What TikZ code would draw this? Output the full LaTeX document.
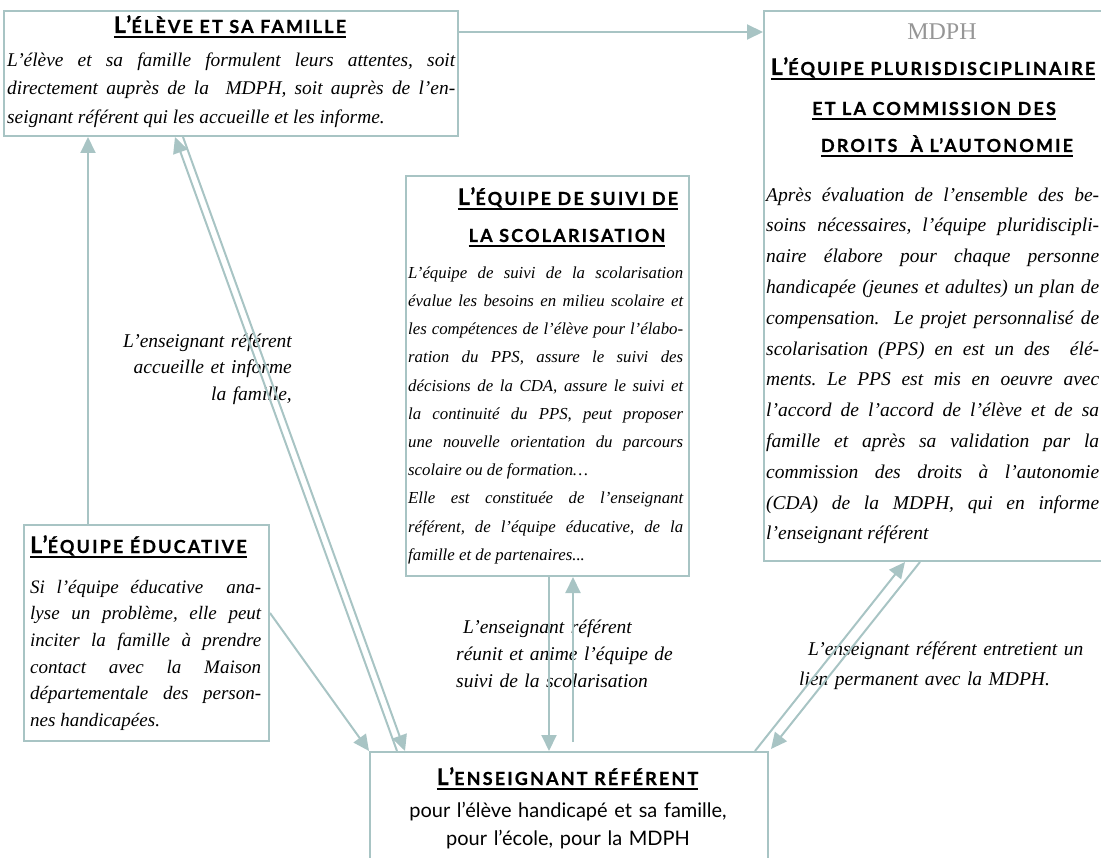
\documentclass[tikz,border=0pt]{standalone}
\usepackage{fontspec}
\setmainfont{Liberation Serif}
\newfontfamily\ttlfont{Lato}[LetterSpace=12, BoldFeatures={FakeBold=0.8}]
\newfontfamily\refsans{Lato}
\usetikzlibrary{arrows.meta,calc}
\definecolor{lc}{RGB}{168,196,196}
\definecolor{mgray}{RGB}{150,150,150}
\frenchspacing
\newcommand{\myul}[1]{\setbox0\hbox{#1}\leavevmode\rlap{\rule[-5pt]{\wd0}{1.6pt}}\box0}
\newcommand{\ttl}[2]{\myul{\ttlfont\bfseries{\fontsize{23}{26}\selectfont #1}{\fontsize{18}{24}\selectfont #2}}}
\newcommand{\ttlsc}[1]{\myul{\ttlfont\bfseries\fontsize{18}{24}\selectfont #1}}
\newcommand{\bodyset}{\hyphenpenalty=10000\relax\tolerance=9999\relax}
\begin{document}
\begin{tikzpicture}[x=1pt,y=-1pt,
  box/.style={draw=lc, line width=2pt, inner sep=0pt, anchor=north west},
  body/.style={anchor=north west, inner sep=0pt, align=justify},
  lab/.style={inner sep=0pt},
  conn/.style={draw=lc, line width=2pt},
  tip/.style={-{Triangle[length=16pt,width=15pt]}}]
\useasboundingbox (0,0) rectangle (1101,858);
% boxes
\node[box, minimum width=454pt, minimum height=125pt] (eleve) at (3,10) {};
\node[box, minimum width=360pt, minimum height=550pt] (mdph) at (763,10) {};
\node[box, minimum width=283pt, minimum height=400pt] (suivi) at (405,175) {};
\node[box, minimum width=245pt, minimum height=216pt] (educ) at (23,524) {};
\node[box, minimum width=398pt, minimum height=130pt] (ref) at (369,751) {};
% titles
\node[anchor=base, inner sep=0pt] (tA) at (230,33) {\ttl{L’}{ÉLÈVE ET SA FAMILLE}};
\node[anchor=base, inner sep=0pt, text=mgray, font=\fontsize{24}{28}\selectfont] (mname) at (942,40) {MDPH};
\node[anchor=base, inner sep=0pt] (tM1) at (933,75) {\ttl{L’}{ÉQUIPE PLURISDISCIPLINAIRE}};
\node[anchor=base, inner sep=0pt] (tM2) at (934,115) {\ttlsc{ET LA COMMISSION DES}};
\node[anchor=base, inner sep=0pt] (tM3) at (947,152) {\ttlsc{DROITS\ \ À L’AUTONOMIE}};
\node[anchor=base, inner sep=0pt] (tS1) at (568,205) {\ttl{L’}{ÉQUIPE DE SUIVI DE}};
\node[anchor=base, inner sep=0pt] (tS2) at (567,242) {\ttlsc{LA SCOLARISATION}};
\node[anchor=base west, inner sep=0pt] (tE) at (30,553) {\ttl{L’}{ÉQUIPE ÉDUCATIVE}};
\node[anchor=base, inner sep=0pt] (tR) at (567.5,785) {\ttl{L’}{ENSEIGNANT RÉFÉRENT}};
% bodies
\node[body, text width=448pt, font=\itshape\fontsize{19.4}{28.5}\selectfont] (bA) at (7,46) {\bodyset\strut L’élève et sa famille formulent leurs attentes, soit\linebreak directement auprès de la\ \ MDPH, soit auprès de l’en-\linebreak seignant référent qui les accueille et les informe.};
\node[body, text width=333pt, font=\itshape\fontsize{19.5}{30.8}\selectfont] (bM) at (766,179.4) {\bodyset\strut Après évaluation de l’ensemble des be-\linebreak soins nécessaires, l’équipe pluridiscipli-\linebreak naire élabore pour chaque personne\linebreak handicapée (jeunes et adultes) un plan de\linebreak compensation.\ \ Le projet personnalisé de\linebreak scolarisation (PPS) en est un des\ \ élé-\linebreak ments. Le PPS est mis en oeuvre avec\linebreak l’accord de l’accord de l’élève et de sa\linebreak famille et après sa validation par la\linebreak commission des droits à l’autonomie\linebreak (CDA) de la MDPH, qui en informe\linebreak l’enseignant référent};
\node[body, text width=275pt, font=\itshape\fontsize{16.8}{28.2}\selectfont] (bS) at (408,258.3) {\bodyset\strut L’équipe de suivi de la scolarisation\linebreak évalue les besoins en milieu scolaire et\linebreak les compétences de l’élève pour l’élabo-\linebreak ration du PPS, assure le suivi des\linebreak décisions de la CDA, assure le suivi et\linebreak la continuité du PPS, peut proposer\linebreak une nouvelle orientation du parcours\linebreak scolaire ou de formation…\newline Elle est constituée de l’enseignant\linebreak référent, de l’équipe éducative, de la\linebreak famille et de partenaires...};
\node[body, text width=231pt, font=\itshape\fontsize{19}{26.7}\selectfont] (bE) at (30,574.3) {\bodyset\strut Si l’équipe éducative\ \ ana-\linebreak lyse un problème, elle peut\linebreak inciter la famille à prendre\linebreak contact avec la Maison\linebreak départementale des person-\linebreak nes handicapées.};
\node[anchor=north, inner sep=0pt, text width=400pt, align=center, font=\refsans\fontsize{20}{28}\selectfont] (bR) at (568,797.4) {\strut pour l’élève handicapé et sa famille,\\pour l’école, pour la MDPH};
% connector labels
\node[lab, anchor=north east, text width=200pt, align=right, font=\itshape\fontsize{19.5}{26.5}\selectfont] (l1) at (292,328.5) {\strut L’enseignant référent\\accueille et informe\\la famille,};
\node[lab, anchor=north west, text width=260pt, align=left, font=\itshape\fontsize{19.5}{27}\selectfont] (l2) at (456,614) {\strut\hspace*{7pt}L’enseignant référent\\réunit et anime l’équipe de\\suivi de la scolarisation};
\node[lab, anchor=north west, text width=300pt, align=left, font=\itshape\fontsize{19.5}{30}\selectfont] (l3) at (799,634) {\strut\hspace*{9pt}L’enseignant référent entretient un\\lien permanent avec la MDPH.};
% connectors
\draw[conn,tip] ($(eleve.north east)+(0,22)$) -- ($(mdph.north west)+(0,22)$);
\draw[conn,tip] ($(educ.north west)+(65,0)$) -- ($(eleve.south west)+(85,0)$);
\draw[conn,tip] ($(educ.north east)+(0,89)$) -- (ref.north west);
\draw[conn,tip] ($(ref.north west)+(28,0)$) -- ($(eleve.south west)+(172,0)$);
\draw[conn,tip] ($(eleve.south west)+(180,0)$) -- ($(ref.north west)+(36,0)$);
\draw[conn,tip] ($(suivi.south west)+(144,0)$) -- ($(ref.north west)+(180,0)$);
\draw[conn,tip] ($(ref.north west)+(204,-9)$) -- ($(suivi.south west)+(168,0)$);
\draw[conn,tip] ($(ref.north east)+(-14,0)$) -- ($(mdph.south west)+(142,0)$);
\draw[conn,tip] ($(mdph.south west)+(157,0)$) -- ($(ref.north east)+(2,-2)$);
\end{tikzpicture}
\end{document}
